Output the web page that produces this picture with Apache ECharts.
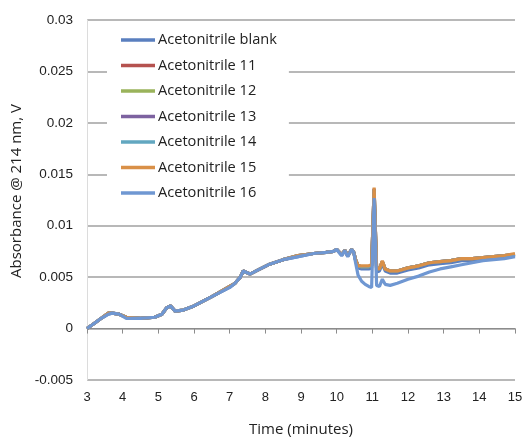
<!DOCTYPE html>
<html>
<head>
<meta charset="utf-8">
<script src="https://cdn.jsdelivr.net/npm/echarts@6/dist/echarts.min.js"></script>
<style>html,body{margin:0;padding:0;background:#fff}#c{width:523px;height:438px}</style>
</head>
<body>
<div id="c"></div>
<script>
var seriesNames = ['Acetonitrile blank','Acetonitrile 11','Acetonitrile 12','Acetonitrile 13','Acetonitrile 14','Acetonitrile 15','Acetonitrile 16'];
var seriesColors = ['#5a7fbf','#b5524f','#9ab35b','#7d62a0','#62a7c0','#d99048','#6f97d2'];
var time = [3.0,3.2,3.4,3.6,3.7,3.9,4.1,4.5,4.9,5.1,5.23,5.34,5.47,5.7,6.0,6.5,7.0,7.15,7.3,7.38,7.57,7.8,8.08,8.5,8.92,9.35,9.7,9.91,10.0,10.14,10.23,10.31,10.42,10.48,10.53,10.6,10.7,10.8,10.9,10.98,11.05,11.12,11.2,11.28,11.36,11.5,11.7,12.0,12.3,12.6,12.9,13.2,13.5,13.8,14.1,14.4,14.7,15.0];
var acnBlank = [0.0000,0.0005,0.0010,0.0014,0.0015,0.0014,0.0011,0.0010,0.0011,0.0014,0.0020,0.0022,0.0017,0.0018,0.0022,0.0031,0.0040,0.0044,0.0050,0.0056,0.0053,0.0057,0.0062,0.0067,0.0070,0.0073,0.0074,0.0075,0.0077,0.0071,0.0076,0.0070,0.0077,0.0074,0.0066,0.0059,0.0058,0.0058,0.0058,0.0059,0.0130,0.0055,0.0056,0.0063,0.0056,0.0054,0.0054,0.0057,0.0059,0.0062,0.0063,0.0064,0.0066,0.0066,0.0067,0.0068,0.0069,0.0071];
var acn11 = [0.0000,0.0005,0.0010,0.0015,0.0015,0.0014,0.0011,0.0010,0.0011,0.0014,0.0020,0.0022,0.0017,0.0018,0.0022,0.0031,0.0041,0.0044,0.0050,0.0056,0.0053,0.0057,0.0062,0.0067,0.0071,0.0073,0.0074,0.0075,0.0077,0.0072,0.0076,0.0071,0.0077,0.0074,0.0067,0.0061,0.0060,0.0060,0.0060,0.0061,0.0136,0.0058,0.0058,0.0065,0.0058,0.0056,0.0056,0.0059,0.0061,0.0064,0.0065,0.0066,0.0068,0.0068,0.0069,0.0070,0.0071,0.0072];
var acn12 = [0.0000,0.0005,0.0010,0.0015,0.0015,0.0014,0.0011,0.0010,0.0011,0.0014,0.0020,0.0022,0.0017,0.0018,0.0022,0.0031,0.0041,0.0044,0.0050,0.0056,0.0053,0.0057,0.0062,0.0067,0.0071,0.0073,0.0074,0.0075,0.0077,0.0072,0.0076,0.0071,0.0077,0.0074,0.0067,0.0061,0.0060,0.0060,0.0060,0.0061,0.0135,0.0058,0.0058,0.0065,0.0058,0.0056,0.0056,0.0059,0.0061,0.0064,0.0065,0.0066,0.0068,0.0068,0.0069,0.0070,0.0071,0.0072];
var acn13 = [0.0000,0.0005,0.0010,0.0015,0.0015,0.0014,0.0011,0.0010,0.0011,0.0014,0.0020,0.0022,0.0017,0.0018,0.0022,0.0031,0.0041,0.0044,0.0050,0.0056,0.0053,0.0057,0.0062,0.0067,0.0071,0.0073,0.0074,0.0075,0.0077,0.0072,0.0076,0.0071,0.0077,0.0074,0.0067,0.0061,0.0060,0.0060,0.0060,0.0061,0.0136,0.0058,0.0058,0.0065,0.0058,0.0056,0.0056,0.0059,0.0061,0.0064,0.0065,0.0066,0.0068,0.0068,0.0069,0.0070,0.0071,0.0072];
var acn14 = [0.0000,0.0005,0.0010,0.0015,0.0015,0.0014,0.0011,0.0010,0.0011,0.0014,0.0020,0.0022,0.0017,0.0018,0.0022,0.0031,0.0041,0.0044,0.0050,0.0056,0.0053,0.0057,0.0062,0.0067,0.0071,0.0073,0.0074,0.0075,0.0077,0.0072,0.0076,0.0071,0.0077,0.0074,0.0067,0.0061,0.0060,0.0060,0.0060,0.0061,0.0135,0.0058,0.0058,0.0065,0.0058,0.0056,0.0056,0.0059,0.0061,0.0064,0.0065,0.0066,0.0068,0.0068,0.0069,0.0070,0.0071,0.0072];
var acn15 = [0.0000,0.0005,0.0010,0.0015,0.0015,0.0014,0.0011,0.0010,0.0011,0.0014,0.0020,0.0022,0.0017,0.0018,0.0022,0.0031,0.0041,0.0044,0.0050,0.0056,0.0053,0.0057,0.0062,0.0067,0.0071,0.0073,0.0074,0.0075,0.0077,0.0072,0.0076,0.0071,0.0077,0.0074,0.0067,0.0061,0.0061,0.0061,0.0061,0.0062,0.0137,0.0059,0.0058,0.0066,0.0058,0.0056,0.0056,0.0059,0.0061,0.0064,0.0065,0.0066,0.0068,0.0068,0.0069,0.0070,0.0071,0.0073];
var acn16 = [0.0000,0.0005,0.0010,0.0014,0.0015,0.0014,0.0010,0.0010,0.0011,0.0014,0.0020,0.0022,0.0017,0.0018,0.0022,0.0031,0.0040,0.0044,0.0050,0.0056,0.0053,0.0057,0.0062,0.0067,0.0070,0.0073,0.0074,0.0075,0.0077,0.0071,0.0076,0.0070,0.0077,0.0074,0.0064,0.0052,0.0046,0.0043,0.0041,0.0040,0.0127,0.0042,0.0041,0.0048,0.0043,0.0042,0.0044,0.0048,0.0051,0.0055,0.0058,0.0060,0.0062,0.0064,0.0066,0.0067,0.0068,0.0070];
var xTicks = {min: 3, max: 15, interval: 1};
var yTicks = {min: -0.005, max: 0.03, interval: 0.005};
var xTitle = 'Time (minutes)';
var yTitle = 'Absorbance @ 214 nm, V';

var allData = [acnBlank, acn11, acn12, acn13, acn14, acn15, acn16];
function pairs(arr){ return time.map(function(t,i){ return [t, arr[i]]; }); }

var chart = echarts.init(document.getElementById('c'), null, {renderer:'canvas'});
var font = '"Liberation Sans", Arial, sans-serif';
var dinFont = '"Open Sans", sans-serif';
chart.setOption({
  animation: false,
  backgroundColor: '#fff',
  grid: {left: 87, right: 8, top: 20, bottom: 58, containLabel: false, outerBoundsMode: 'none'},
  legend: {
    data: seriesNames,
    orient: 'vertical',
    left: 107, top: 26,
    padding: [6, 12, 6, 14],
    backgroundColor: '#fff',
    icon: 'rect',
    itemWidth: 34, itemHeight: 3.5,
    itemGap: 9.5,
    textStyle: {fontFamily: dinFont, fontSize: 14.6, color: '#222', lineHeight: 16, padding: [0,0,0,-2]},
    z: 10
  },
  xAxis: {
    type: 'value', min: xTicks.min, max: xTicks.max, interval: xTicks.interval,
    name: xTitle, nameLocation: 'middle', nameGap: 42,
    nameTextStyle: {fontFamily: dinFont, fontSize: 15, color: '#222'},
    axisLine: {show: true, lineStyle: {color: '#8c8c8c', width: 1}},
    axisTick: {show: true, length: 5, lineStyle: {color: '#8c8c8c'}},
    axisLabel: {fontFamily: font, fontSize: 13, color: '#222', margin: 11},
    splitLine: {show: false}
  },
  yAxis: {
    type: 'value', min: yTicks.min, max: yTicks.max, interval: yTicks.interval,
    name: yTitle, nameLocation: 'middle', nameGap: 62, nameRotate: 90,
    nameTextStyle: {fontFamily: dinFont, fontSize: 15, color: '#222', padding: [0,0,0,18]},
    axisLine: {show: true, lineStyle: {color: '#dcdcdc', width: 1}},
    axisTick: {show: false},
    axisLabel: {fontFamily: font, fontSize: 13.5, color: '#222', margin: 14,
      formatter: function(v){ return String(parseFloat(v.toFixed(4))); }},
    splitLine: {show: true, lineStyle: {color: '#a0a0a0', width: 1.5}}
  },
  series: seriesNames.map(function(n, i){
    return {
      name: n, type: 'line', data: pairs(allData[i]),
      showSymbol: false, symbol: 'none',
      lineStyle: {width: 3.2, color: seriesColors[i]},
      itemStyle: {color: seriesColors[i]},
      z: 2
    };
  })
});
</script>
</body>
</html>
